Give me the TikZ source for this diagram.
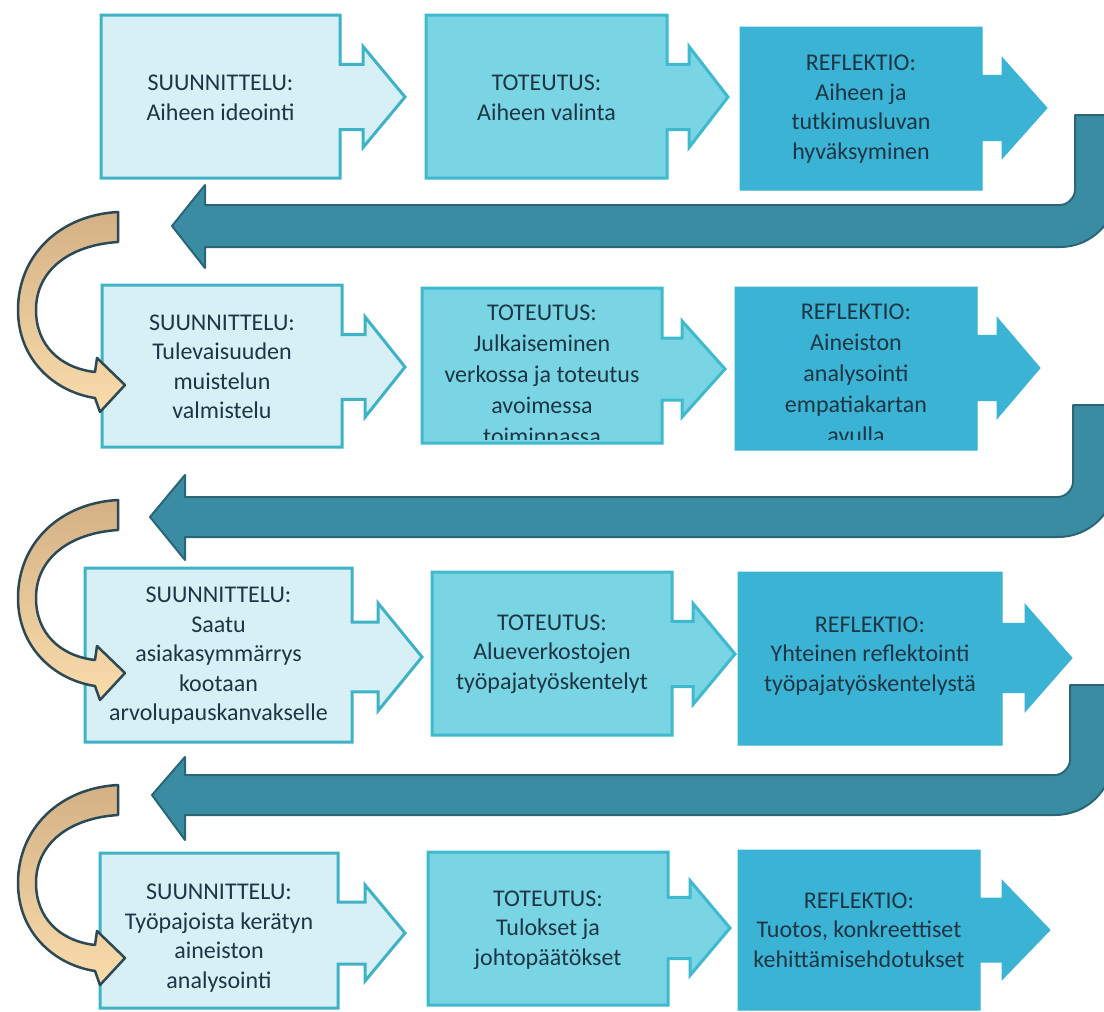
\documentclass[tikz,border=0pt]{standalone}
\usepackage{fontspec}
\setmainfont{Carlito}
\definecolor{bAfill}{HTML}{D6F0F5}
\definecolor{bAline}{HTML}{3FB3C5}
\definecolor{bBfill}{HTML}{79D4E3}
\definecolor{bBline}{HTML}{3EB9CD}
\definecolor{bCfill}{HTML}{3BB3D4}
\definecolor{retfill}{HTML}{3A8CA2}
\definecolor{retline}{HTML}{2B6677}
\definecolor{tantop}{HTML}{D3B185}
\definecolor{tanbot}{HTML}{FADCAB}
\definecolor{tanline}{HTML}{2C4A55}
\definecolor{txtc}{HTML}{1D3646}
\tikzset{
  boxA/.style={fill=bAfill, draw=bAline, line width=3pt},
  boxB/.style={fill=bBfill, draw=bBline, line width=3pt},
  boxC/.style={fill=bCfill, draw=bCfill, line width=1pt},
  retarr/.style={fill=retfill, draw=retline, line width=2pt, line join=round},
  tanarr/.style={top color=tantop, bottom color=tanbot, draw=tanline, line width=2.5pt, line join=round},
  txt/.style={align=center, text=txtc, inner sep=0pt, font=\fontsize{24}{29.5}\selectfont},
  txtclip/.style={align=center, text=txtc, inner sep=0pt, font=\fontsize{24}{31}\selectfont, anchor=north}
}
% box with built-in arrow: style, L, T, R, B, head base x, tip x, tip y
\newcommand{\pbox}[8]{%
  \pgfmathsetmacro{\pbhh}{(#5-#3)*0.31}%
  \pgfmathsetmacro{\pbsh}{(#5-#3)*0.2}%
  \path[#1] (#2,#3) -- (#4,#3) -- (#4,#8-\pbsh) -- (#6,#8-\pbsh) -- (#6,#8-\pbhh) -- (#7,#8)
    -- (#6,#8+\pbhh) -- (#6,#8+\pbsh) -- (#4,#8+\pbsh) -- (#4,#5) -- (#2,#5) -- cycle;}
% return arrow: vert top, shaft top, shaft bottom, head top, head bottom, head base x, tip x, inner x
\newcommand{\retarrow}[8]{%
  \path[retarr] (#7,{(#2+#3)/2}) -- (#6,#4) -- (#6,#2) -- ({#8-15},#2)
    .. controls ({#8-6.7},#2) and (#8,{#2-8.3}) .. (#8,{#2-15}) -- (#8,#1) -- ({#8+42},#1)
    -- ({#8+42},{#2-15}) .. controls ({#8+42},{#2-15+0.5523*(#3-#2+15)}) and ({#8-15+0.5523*57},#3) .. ({#8-15},#3)
    -- (#6,#3) -- (#6,#5) -- cycle;}
\newcommand{\tanarrow}[1]{%
  \begin{scope}[shift={(0,#1)}]
  \path[tanarr] (118,212) .. controls (60,215) and (18,255) .. (18,310)
    .. controls (18,360) and (55,392) .. (95,398) -- (100,412) -- (125,385) -- (97,358) -- (95,372)
    .. controls (60,368) and (36,345) .. (36,310) .. controls (36,270) and (70,245) .. (118,242) -- cycle;
  \end{scope}}
\begin{document}
\begin{tikzpicture}[x=1pt, y=-1pt]
\clip (0,0) rectangle (1104,1012);
\fill[white] (0,0) rectangle (1104,1012);

% return arrows
\retarrow{115}{205}{247}{185}{268}{205}{172}{1075}
\retarrow{405}{497}{537}{475}{560}{185}{150}{1073}
\retarrow{685}{775}{815}{757}{840}{185}{152}{1070}

% row 1
\pbox{boxA}{101}{15}{340}{178}{363}{405}{97}
\pbox{boxB}{426}{15}{667}{178}{689}{728}{97}
\pbox{boxC}{740}{27}{982}{190}{1002}{1047}{108}
\node[txt] (t11) at (220.5,98) {SUUNNITTELU:\\Aiheen ideointi};
\node[txt] (t12) at (546.5,98) {TOTEUTUS:\\Aiheen valinta};
\node[txt] (t13) at (861,109) {REFLEKTIO:\\Aiheen ja\\tutkimusluvan\\hyväksyminen};

% row 2
\pbox{boxA}{102}{285}{342}{447}{365}{405}{367}
\pbox{boxB}{422}{288}{662}{443}{682}{725}{369}
\pbox{boxC}{735}{287}{977}{450}{997}{1040}{368}
\node[txt] (t21) at (222,367) {SUUNNITTELU:\\Tulevaisuuden\\muistelun\\valmistelu};
\begin{scope}
\clip (424,290) rectangle (660,439);
\node[txtclip] (t22) at (542,305) {TOTEUTUS:\\Julkaiseminen\\verkossa ja toteutus\\avoimessa\\toiminnassa};
\end{scope}
\begin{scope}
\clip (737,289) rectangle (975,439);
\node[txtclip] (t23) at (856,304) {REFLEKTIO:\\Aineiston\\analysointi\\empatiakartan\\avulla};
\end{scope}

% row 3
\pbox{boxA}{85}{568}{352}{742}{378}{422}{657}
\pbox{boxB}{432}{572}{672}{735}{693}{735}{654}
\pbox{boxC}{738}{572}{1002}{745}{1025}{1072}{658}
\node[txt] (t31) at (218.5,656) {SUUNNITTELU:\\Saatu\\asiakasymmärrys\\kootaan\\arvolupauskanvakselle};
\node[txt] (t32) at (552,654) {TOTEUTUS:\\Alueverkostojen\\työpajatyöskentelyt};
\node[txt] (t33) at (870,656) {REFLEKTIO:\\Yhteinen reflektointi\\työpajatyöskentelystä};

% row 4
\pbox{boxA}{100}{853}{338}{1008}{365}{405}{933}
\pbox{boxB}{428}{852}{668}{1005}{690}{730}{928}
\pbox{boxC}{738}{850}{980}{1010}{1002}{1050}{930}
\node[txt] (t41) at (219,938) {SUUNNITTELU:\\Työpajoista kerätyn\\aineiston\\analysointi};
\node[txt] (t42) at (548,930) {TOTEUTUS:\\Tulokset ja\\johtopäätökset};
\node[txt] (t43) at (859,930) {REFLEKTIO:\\Tuotos, konkreettiset\\kehittämisehdotukset};

% curved tan arrows
\tanarrow{0}
\tanarrow{288}
\tanarrow{573}
\end{tikzpicture}
\end{document}
